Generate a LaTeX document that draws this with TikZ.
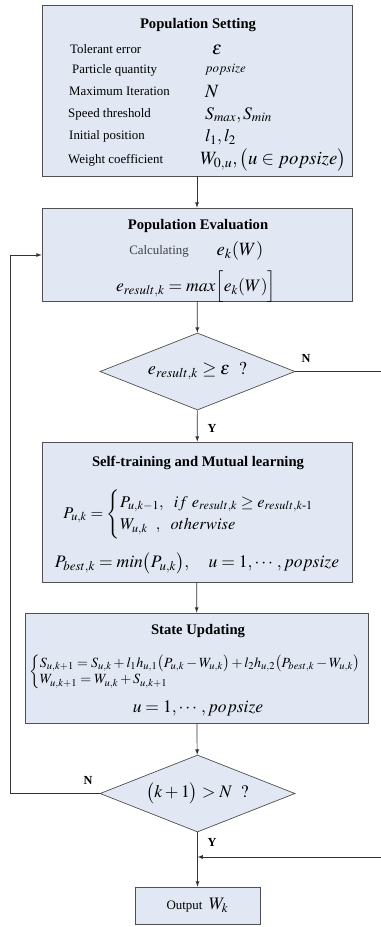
\documentclass[tikz,border=0pt]{standalone}
\usepackage{amsmath,amssymb}
\usepackage{mathptmx}
\usepackage{fontspec}
\setmainfont{Liberation Serif}
\usetikzlibrary{shapes.geometric}

\definecolor{boxfill}{RGB}{225,232,244}
\definecolor{boxline}{RGB}{80,80,80}

\begin{document}
\begin{tikzpicture}[x=0.03cm,y=-0.03cm,
  block/.style={rectangle,draw=boxline,fill=boxfill,line width=0.6pt,inner sep=0pt},
  decision/.style={diamond,draw=boxline,fill=boxfill,line width=0.6pt,inner sep=0pt,
    minimum width=5.85cm,minimum height=2.31cm,aspect=2.53},
  title/.style={font=\fontsize{12.5}{14}\selectfont\bfseries},
  lbl/.style={font=\fontsize{11}{13}\selectfont,anchor=west,inner sep=0pt},
  val/.style={anchor=west,inner sep=0pt},
  yn/.style={font=\fontsize{10.5}{12}\selectfont\bfseries,inner sep=0pt},
  flow/.style={draw=black!80,line width=0.6pt,-latex}]

\useasboundingbox (0,0) rectangle (380,927);

% ---------------- BOXES ----------------

\node[block,minimum width=9.3cm,minimum height=5.13cm] (set) at (197,90.5) {};
\node[block,minimum width=9.3cm,minimum height=2.79cm] (eval) at (197,254.5) {};
\node[decision] (chk1) at (197.5,371.5) {\fontsize{15.5}{17}\selectfont$e_{result,k}\geq\varepsilon\ \ ?$};
\node[block,minimum width=9.3cm,minimum height=4.2cm] (learn) at (197,512) {};
\node[block,minimum width=10.29cm,minimum height=3.3cm] (upd) at (196.5,668) {};
\node[decision] (chk2) at (197.5,793.5) {\fontsize{15}{17}\selectfont$\bigl(k+1\bigr)>N\ \ ?$};
\node[block,minimum width=3.75cm,minimum height=1.11cm] (out) at (197.5,905.5)
  {\fontsize{11}{13}\selectfont Output\ \ \fontsize{15}{17}\selectfont$W_k$};

% ---------------- POPULATION SETTING ----------------

\node[title] (setT) at (198,25) {Population Setting};
\node[lbl] (l1) at (70,49) {Tolerant error};
\node[lbl] (l2) at (72,70) {Particle quantity};
\node[lbl] (l3) at (69,91) {Maximum Iteration};
\node[lbl] (l4) at (68,114) {Speed threshold};
\node[lbl] (l5) at (69,136) {Initial position};
\node[lbl] (l6) at (68,160) {Weight coefficient};
\node[val] (v1) at (212,50) {\fontsize{16}{18}\selectfont$\varepsilon$};
\node[val] (v2) at (205,70) {\fontsize{11}{13}\selectfont$popsize$};
\node[val] (v3) at (205,92) {\fontsize{16}{18}\selectfont$N$};
\node[val] (v4) at (205,115) {\fontsize{15}{17}\selectfont$S_{max},S_{min}$};
\node[val] (v5) at (205,137) {\fontsize{15}{17}\selectfont$l_1,l_2$};
\node[val] (v6) at (200,160) {\fontsize{16}{18}\selectfont$W_{0,u},\bigl(u\in popsize\bigr)$};

% ---------------- POPULATION EVALUATION ----------------

\node[title] (evalT) at (198,226) {Population Evaluation};
\node[font=\fontsize{11}{13}\selectfont,text=black!75,inner sep=0pt] (calc) at (159,251) {Calculating};
\node[inner sep=0pt] (ek) at (240,251) {\fontsize{16}{18}\selectfont$e_k(W)$};
\node[inner sep=0pt] (emax) at (196,287) {\fontsize{15}{17}\selectfont$e_{result,k}=max\Bigl[e_k(W)\Bigr]$};

% ---------------- SELF-TRAINING ----------------

\node[title] (learnT) at (198,463) {Self-training and Mutual learning};
\node[inner sep=0pt] (pk) at (197,514) {\fontsize{14}{16}\selectfont$P_{u,k}=\begin{cases}P_{u,k-1},\ \ if\ e_{result,k}\geq e_{result,k\text{-}1}\\ W_{u,k}\ \ ,\ \ otherwise\end{cases}$};
\node[inner sep=0pt] (pbest) at (197,563) {\fontsize{15}{17}\selectfont$P_{best,k}=min\bigl(P_{u,k}\bigr),\quad u=1,\cdots,popsize$};

% ---------------- STATE UPDATING ----------------

\node[title] (updT) at (198,631) {State Updating};
\node[inner sep=0pt,anchor=west] (sys) at (29,672) {\fontsize{12}{14}\selectfont$\left\{\begin{array}{@{}l@{}}S_{u,k+1}=S_{u,k}+l_1h_{u,1}\bigl(P_{u,k}-W_{u,k}\bigr)+l_2h_{u,2}\bigl(P_{best,k}-W_{u,k}\bigr)\\ W_{u,k+1}=W_{u,k}+S_{u,k+1}\end{array}\right.$};
\node[inner sep=0pt] (urange) at (198,708) {\fontsize{15}{17}\selectfont$u=1,\cdots,popsize$};

% ---------------- LABELS ----------------

\node[yn] (n1) at (306,358) {N};
\node[yn] (y1) at (212,428) {Y};
\node[yn] (n2) at (88,780) {N};
\node[yn] (y2) at (212,842) {Y};

% ---------------- CONNECTIONS ----------------

\coordinate (join) at (chk2.south |- 0,857);
\coordinate (farR) at (390,0);
\coordinate (farL) at (10,0);

\draw[flow] (set)--(eval);
\draw[flow] (eval)--(chk1);
\draw[flow] (chk1)--(learn);
\draw[flow] (learn)--(upd);
\draw[flow] (upd)--(chk2);
\draw[flow] (chk2)--(out);
\draw[flow] (chk2.west)--(farL |- chk2.west)--(farL |- 0,255)--(eval.west |- 0,255);
\draw[flow] (chk1.east)--(farR |- chk1.east)--(farR |- join)--(join);

\end{tikzpicture}
\end{document}
